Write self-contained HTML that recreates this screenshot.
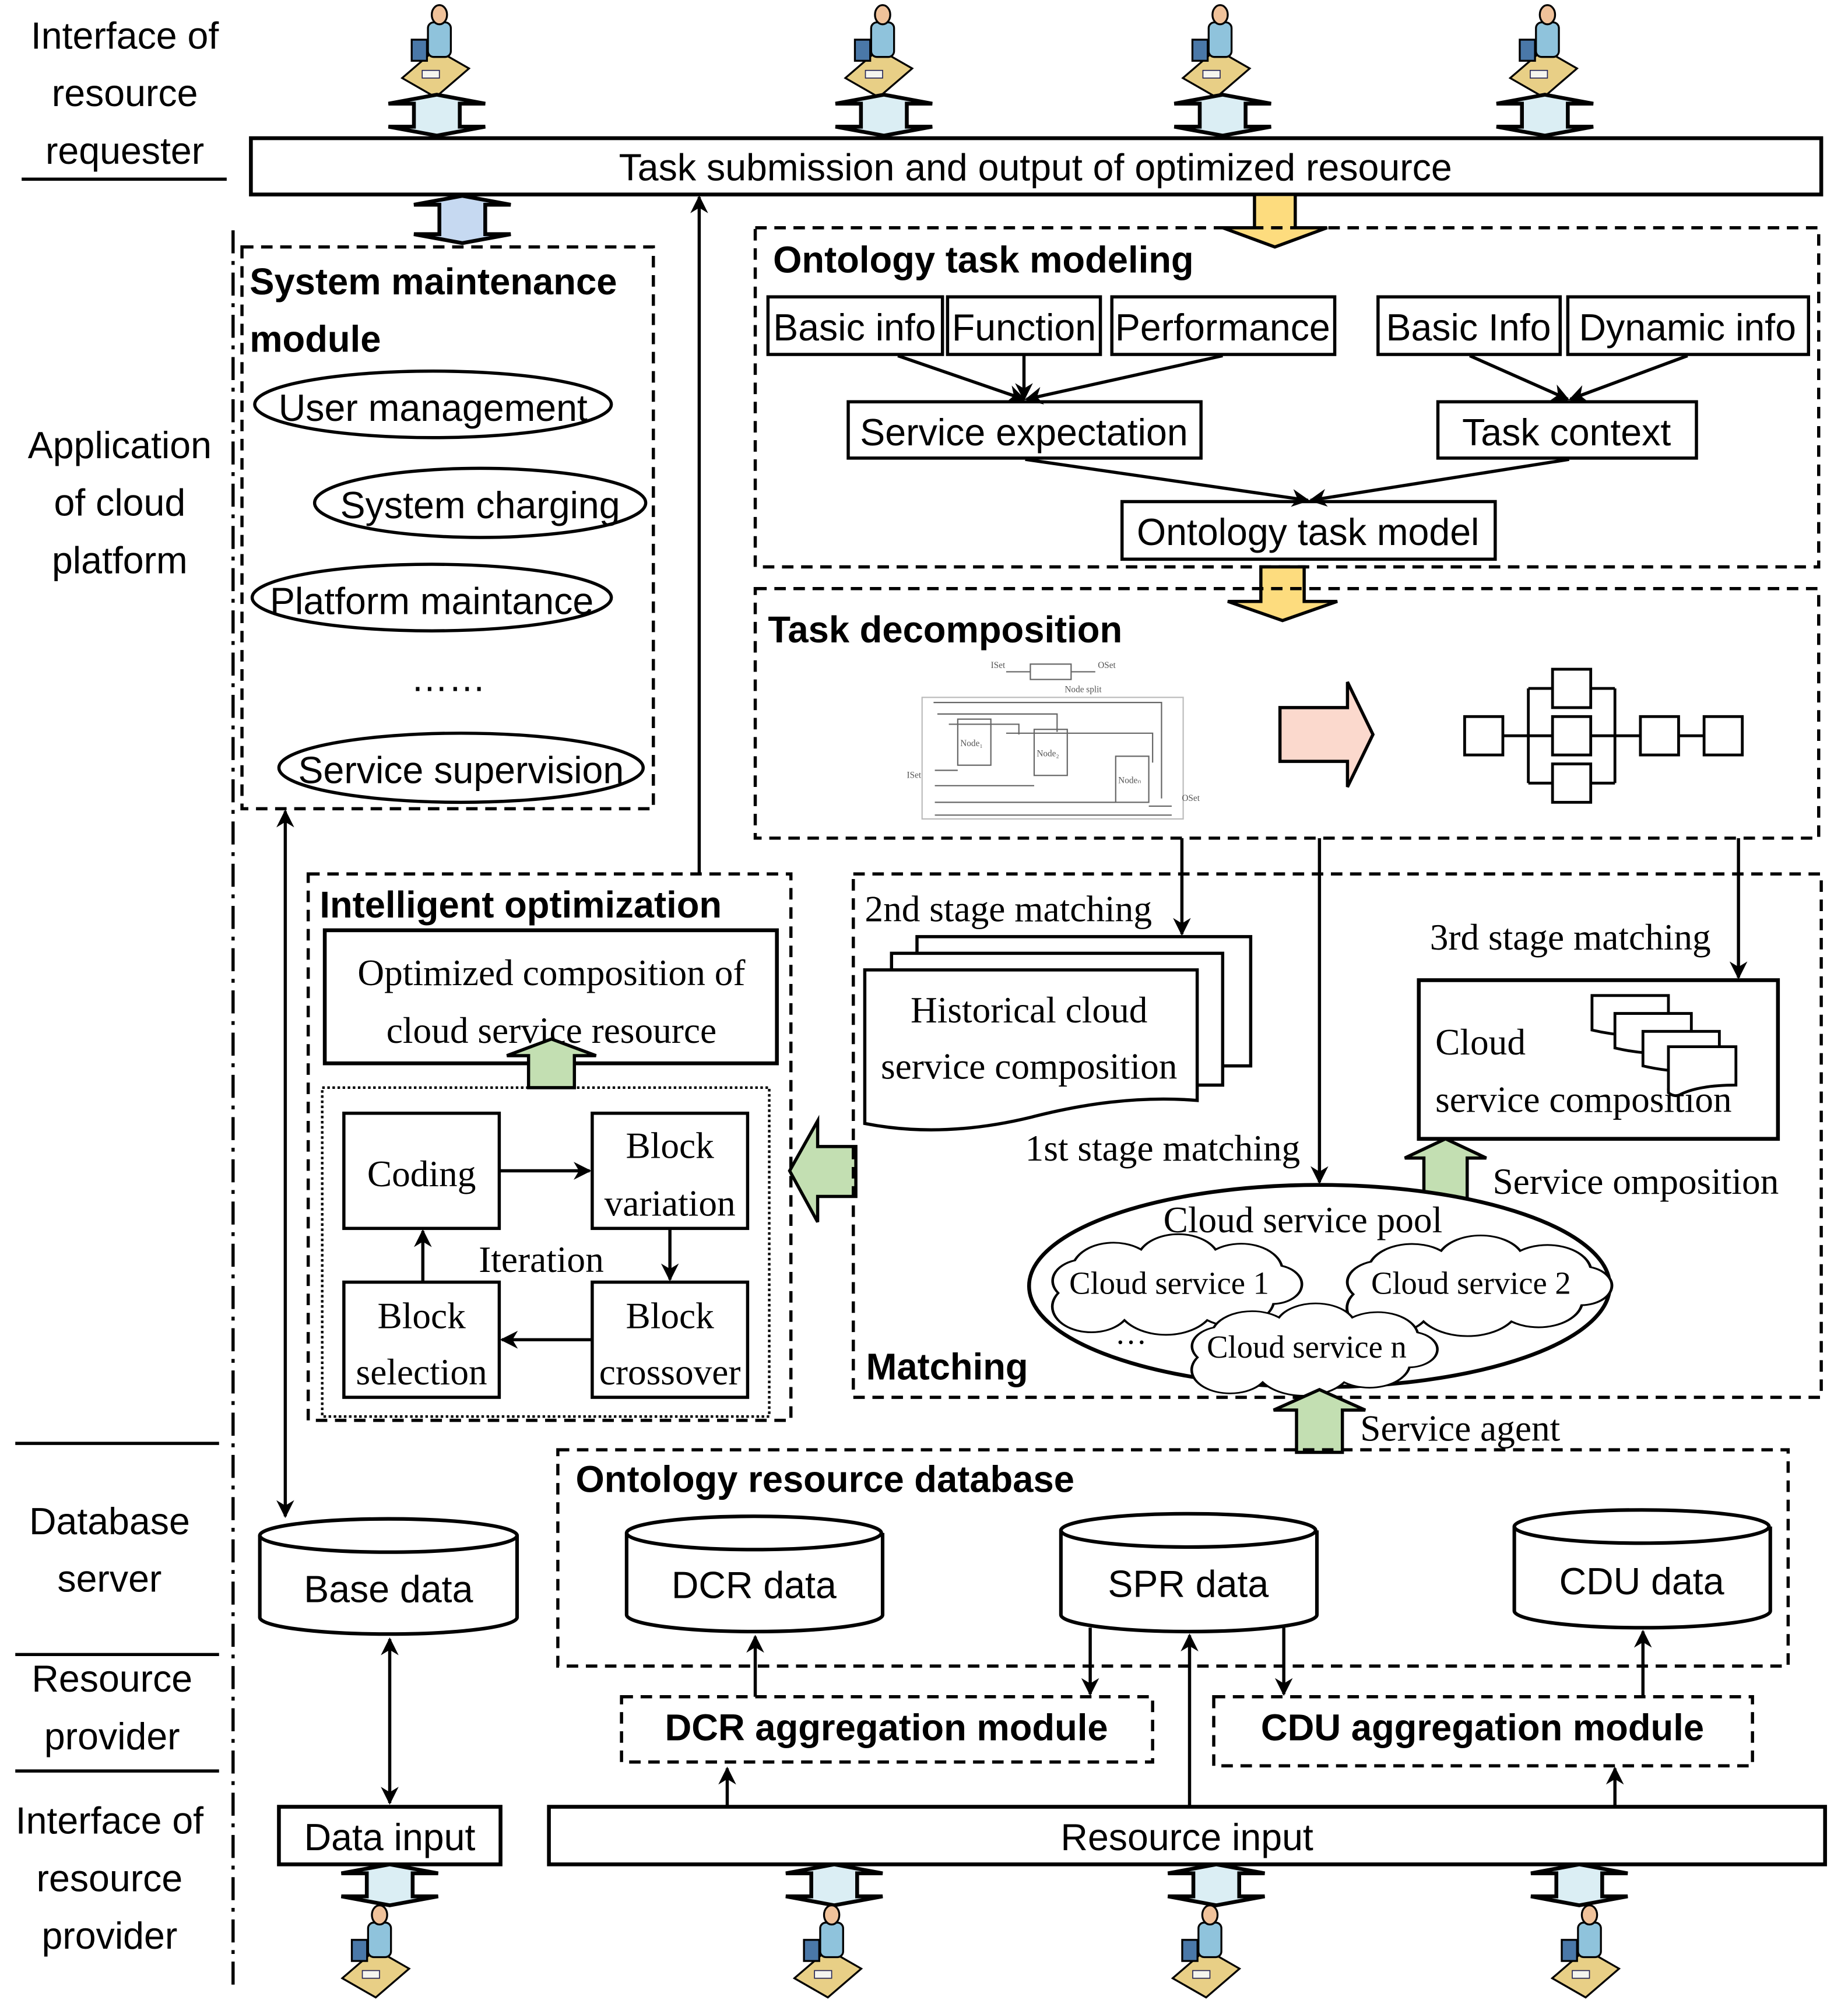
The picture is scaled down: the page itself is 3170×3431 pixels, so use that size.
<!DOCTYPE html>
<html><head><meta charset="utf-8"><style>
html,body{margin:0;padding:0;background:#fff}
svg{display:block}
.s{font-family:"Liberation Sans",sans-serif;font-size:29.5px}
.b{font-family:"Liberation Sans",sans-serif;font-size:29px;font-weight:bold}
.r{font-family:"Liberation Serif",serif;font-size:29px}
.rs{font-family:"Liberation Serif",serif;font-size:25px}
</style></head><body>
<svg width="3170" height="3431" viewBox="0 0 1451 1563" preserveAspectRatio="none" xmlns="http://www.w3.org/2000/svg">
<defs>
<marker id="a2" viewBox="0 0 10 10" refX="9" refY="5" markerWidth="22" markerHeight="14" orient="auto-start-reverse" markerUnits="userSpaceOnUse"><path d="M0,0 L10,5 L0,10 L3,5 z" fill="#000"/></marker>
<g id="dbl"><polygon points="38,0 76,7 56,7 56,25 76,25 38,32 0,25 20,25 20,7 0,7" fill="#dbeef4" stroke="#000" stroke-width="3" stroke-linejoin="miter"/></g>
<g id="dbl2"><polygon points="38,0 76,7 56,7 56,30 76,30 38,37 0,30 20,30 20,7 0,7" fill="#c6d9f1" stroke="#000" stroke-width="3"/></g>
<g id="person">
<polygon points="-35,28 0,-2 35,18 0,48" fill="#e8cf86" stroke="#000" stroke-width="2"/>
<rect x="-8" y="-30" width="24" height="36" rx="6" fill="#8fc3dc" stroke="#000" stroke-width="2"/>
<ellipse cx="4" cy="-38" rx="8" ry="10" fill="#f0c29a" stroke="#000" stroke-width="2"/>
<rect x="-25" y="-12" width="16" height="22" fill="#4a78a8" stroke="#000" stroke-width="2"/>
<rect x="-14" y="20" width="18" height="8" fill="#f5f5ee" stroke="#225" stroke-width="1"/>
</g>
<path id="cloud" d="M-67,10 a20,20 0 0,1 10,-30 a25,25 0 0,1 40,-10 a25,25 0 0,1 45,0 a25,25 0 0,1 40,15 a18,18 0 0,1 -5,35 a25,25 0 0,1 -40,15 a30,30 0 0,1 -50,0 a22,22 0 0,1 -40,-25 z" fill="#fff" stroke="#000" stroke-width="1.6"/>
</defs>

<g class="s" text-anchor="middle">
<text x="98" y="38">Interface of</text><text x="98" y="83">resource</text><text x="98" y="128">requester</text>
<text x="94" y="358">Application</text><text x="94" y="403">of cloud</text><text x="94" y="448">platform</text>
<text x="86" y="1199">Database</text><text x="86" y="1244">server</text>
<text x="88" y="1322">Resource</text><text x="88" y="1367">provider</text>
<text x="86" y="1433">Interface of</text><text x="86" y="1478">resource</text><text x="86" y="1523">provider</text>
</g>
<g stroke="#000" stroke-width="2.5">
<line x1="17" y1="140" x2="178" y2="140"/>
<line x1="12" y1="1128" x2="172" y2="1128"/>
<line x1="12" y1="1293" x2="172" y2="1293"/>
<line x1="12" y1="1384" x2="172" y2="1384"/>
</g>
<line x1="183" y1="180" x2="183" y2="1555" stroke="#000" stroke-width="2.5" stroke-dasharray="18,6,3,6"/>

<use href="#person" transform="translate(342,40) scale(0.75)"/>
<use href="#person" transform="translate(690,40) scale(0.75)"/>
<use href="#person" transform="translate(955,40) scale(0.75)"/>
<use href="#person" transform="translate(1212,40) scale(0.75)"/>
<use href="#dbl" transform="translate(305,74)"/>
<use href="#dbl" transform="translate(656,74)"/>
<use href="#dbl" transform="translate(922,74)"/>
<use href="#dbl" transform="translate(1175,74)"/>

<rect x="197" y="108" width="1233" height="44" fill="#fff" stroke="#000" stroke-width="3"/>
<text class="s" x="813" y="141" text-anchor="middle">Task submission and output of optimized resource</text>

<use href="#dbl2" transform="translate(325,153)"/>
<line x1="549" y1="683" x2="549" y2="154" stroke="#000" stroke-width="2.5" marker-end="url(#a2)"/>
<polygon points="985,152 1017,152 1017,178 1042,178 1001,193 960,178 985,178" fill="#fddc7e" stroke="#000" stroke-width="2.5"/>

<rect x="190" y="193" width="323" height="439" fill="none" stroke="#000" stroke-width="2.5" stroke-dasharray="9,6"/>
<text class="b" x="196" y="230">System maintenance</text>
<text class="b" x="196" y="275">module</text>
<g fill="none" stroke="#000" stroke-width="2.5">
<ellipse cx="340" cy="316" rx="140" ry="26"/>
<ellipse cx="377" cy="393" rx="130" ry="27"/>
<ellipse cx="339" cy="467" rx="141" ry="26"/>
<ellipse cx="362" cy="600" rx="143" ry="27"/>
</g>
<g class="s" text-anchor="middle">
<text x="340" y="329">User management</text>
<text x="377" y="405">System charging</text>
<text x="339" y="480">Platform maintance</text>
<text x="352" y="540">……</text>
<text x="362" y="612">Service supervision</text>
</g>

<rect x="593" y="178" width="835" height="265" fill="none" stroke="#000" stroke-width="2.5" stroke-dasharray="9,6"/>
<text class="b" x="607" y="213">Ontology task modeling</text>
<g fill="#fff" stroke="#000" stroke-width="2.5">
<rect x="603" y="232" width="137" height="45"/><rect x="744" y="232" width="120" height="45"/><rect x="873" y="232" width="175" height="45"/>
<rect x="1082" y="232" width="143" height="45"/><rect x="1231" y="232" width="189" height="45"/>
<rect x="666" y="314" width="277" height="44"/><rect x="1129" y="314" width="203" height="44"/>
<rect x="881" y="392" width="293" height="45"/>
</g>
<g class="s" text-anchor="middle">
<text x="671" y="266">Basic info</text><text x="804" y="266">Function</text><text x="960" y="266">Performance</text>
<text x="1153" y="266">Basic Info</text><text x="1325" y="266">Dynamic info</text>
<text x="804" y="348">Service expectation</text><text x="1230" y="348">Task context</text>
<text x="1027" y="426">Ontology task model</text>
</g>
<g stroke="#000" stroke-width="2.5" marker-end="url(#a2)">
<line x1="705" y1="278" x2="804" y2="312"/><line x1="804" y1="278" x2="804" y2="312"/><line x1="960" y1="278" x2="806" y2="312"/>
<line x1="1154" y1="278" x2="1231" y2="312"/><line x1="1325" y1="278" x2="1233" y2="312"/>
<line x1="805" y1="359" x2="1027" y2="391"/><line x1="1232" y1="359" x2="1029" y2="391"/>
</g>
<polygon points="990,443 1024,443 1024,470 1050,470 1007,485 964,470 990,470" fill="#fddc7e" stroke="#000" stroke-width="2.5"/>

<rect x="593" y="460" width="835" height="195" fill="none" stroke="#000" stroke-width="2.5" stroke-dasharray="9,6"/>
<text class="b" x="603" y="502">Task decomposition</text>
<g stroke="#666" stroke-width="1" fill="none">
<rect x="809" y="519" width="32" height="12"/><line x1="790" y1="525" x2="809" y2="525"/><line x1="841" y1="525" x2="860" y2="525"/>
<rect x="724" y="545" width="205" height="95" stroke="#bbb"/>
<rect x="752" y="562" width="26" height="36" fill="#fff"/><rect x="812" y="570" width="26" height="36" fill="#fff"/><rect x="876" y="591" width="26" height="36" fill="#fff"/>
<path d="M733,549 H912 V624 M736,558 H830 V572 M745,566 H800 V574 M790,573 H905 V596 M734,602 H752 M734,614 H812 M734,627 H876 M734,637 H920 M902,630 H920"/>
</g>
<g font-family="Liberation Serif,serif" font-size="7" fill="#555">
<text x="778" y="522">ISet</text><text x="862" y="522">OSet</text><text x="836" y="541">Node split</text>
<text x="754" y="583">Node₁</text><text x="814" y="591">Node₂</text><text x="878" y="612">Nodeₙ</text>
<text x="712" y="608">ISet</text><text x="928" y="626">OSet</text>
</g>
<polygon points="1005,553 1058,553 1058,533 1078,574 1058,615 1058,595 1005,595" fill="#fbd9cd" stroke="#000" stroke-width="2.5"/>
<g fill="#fff" stroke="#000" stroke-width="2.2">
<line x1="1180" y1="575" x2="1338" y2="575"/>
<line x1="1200" y1="538" x2="1200" y2="612"/><line x1="1268" y1="538" x2="1268" y2="612"/>
<line x1="1200" y1="538" x2="1268" y2="538"/><line x1="1200" y1="612" x2="1268" y2="612"/>
<rect x="1150" y="560" width="30" height="30"/>
<rect x="1219" y="523" width="30" height="30"/><rect x="1219" y="560" width="30" height="30"/><rect x="1219" y="597" width="30" height="30"/>
<rect x="1288" y="560" width="30" height="30"/><rect x="1338" y="560" width="30" height="30"/>
</g>

<rect x="242" y="683" width="379" height="427" fill="none" stroke="#000" stroke-width="2.5" stroke-dasharray="9,6"/>
<text class="b" x="251" y="717">Intelligent optimization</text>
<rect x="255" y="727" width="355" height="104" fill="#fff" stroke="#000" stroke-width="3"/>
<text class="r" x="433" y="770" text-anchor="middle">Optimized composition of</text>
<text class="r" x="433" y="815" text-anchor="middle">cloud service resource</text>
<polygon points="415,850 415,825 398,825 433,812 468,825 451,825 451,850" fill="#c3dfb2" stroke="#000" stroke-width="2.5"/>
<rect x="253" y="850" width="351" height="257" fill="none" stroke="#000" stroke-width="2" stroke-dasharray="2,2"/>
<g fill="#fff" stroke="#000" stroke-width="2.5">
<rect x="270" y="870" width="122" height="90"/><rect x="465" y="870" width="122" height="90"/>
<rect x="270" y="1002" width="122" height="90"/><rect x="465" y="1002" width="122" height="90"/>
</g>
<g class="r" text-anchor="middle">
<text x="331" y="927">Coding</text>
<text x="526" y="905">Block</text><text x="526" y="950">variation</text>
<text x="331" y="1038">Block</text><text x="331" y="1082">selection</text>
<text x="526" y="1038">Block</text><text x="526" y="1082">crossover</text>
<text x="425" y="994">Iteration</text>
</g>
<g stroke="#000" stroke-width="2.5" marker-end="url(#a2)">
<line x1="392" y1="915" x2="463" y2="915"/><line x1="526" y1="960" x2="526" y2="1000"/>
<line x1="465" y1="1047" x2="394" y2="1047"/><line x1="332" y1="1002" x2="332" y2="962"/>
</g>
<polygon points="672,896 642,896 642,876 620,915 642,955 642,935 672,935" fill="#c3dfb2" stroke="#000" stroke-width="2.5"/>

<rect x="670" y="683" width="760" height="409" fill="none" stroke="#000" stroke-width="2.5" stroke-dasharray="9,6"/>
<text class="r" x="679" y="720">2nd stage matching</text>
<line x1="928" y1="655" x2="928" y2="730" stroke="#000" stroke-width="2.5" marker-end="url(#a2)"/>
<g fill="#fff" stroke="#000" stroke-width="2.5">
<rect x="720" y="732" width="262" height="101"/>
<rect x="700" y="745" width="260" height="103"/>
<path d="M679,758 H940 V860 Q880,855 810,873 Q740,890 679,878 Z"/>
</g>
<text class="r" x="808" y="799" text-anchor="middle">Historical cloud</text>
<text class="r" x="808" y="843" text-anchor="middle">service composition</text>
<text class="r" x="805" y="907">1st stage matching</text>
<line x1="1036" y1="655" x2="1036" y2="924" stroke="#000" stroke-width="2.5" marker-end="url(#a2)"/>
<text class="r" x="1233" y="742" text-anchor="middle">3rd stage matching</text>
<line x1="1365" y1="655" x2="1365" y2="764" stroke="#000" stroke-width="2.5" marker-end="url(#a2)"/>
<rect x="1114" y="766" width="282" height="124" fill="#fff" stroke="#000" stroke-width="3"/>
<text class="r" x="1127" y="824">Cloud</text>
<text class="r" x="1127" y="869">service composition</text>
<g fill="#fff" stroke="#000" stroke-width="2.2">
<path d="M1250,778 H1310 V808 Q1280,812 1250,805 Z"/>
<path d="M1268,792 H1328 V822 Q1298,826 1268,819 Z"/>
<path d="M1290,806 H1350 V836 Q1320,840 1290,833 Z"/>
<path d="M1310,818 H1363 V848 Q1335,848 1320,855 Q1315,858 1310,854 Z"/>
</g>
<polygon points="1118,940 1118,905 1103,905 1135,890 1167,905 1152,905 1152,940" fill="#c3dfb2" stroke="#000" stroke-width="2.5"/>
<text class="r" x="1172" y="933">Service omposition</text>
<ellipse cx="1036" cy="1005" rx="228" ry="79" fill="#fff" stroke="#000" stroke-width="3"/>
<text class="r" x="1023" y="963" text-anchor="middle">Cloud service pool</text>
<use href="#cloud" transform="translate(918,1002) scale(1.3,0.85)"/>
<use href="#cloud" transform="translate(1155,1003) scale(1.38,0.85)"/>
<use href="#cloud" transform="translate(1026,1053) scale(1.28,0.78)"/>
<g class="rs" text-anchor="middle">
<text x="918" y="1011">Cloud service 1</text>
<text x="1155" y="1011">Cloud service 2</text>
<text x="1026" y="1061">Cloud service n</text>
<text x="888" y="1050">…</text>
</g>
<text class="b" x="680" y="1078">Matching</text>
<polygon points="1018,1135 1018,1102 1000,1102 1036,1086 1072,1102 1054,1102 1054,1135" fill="#c3dfb2" stroke="#000" stroke-width="2.5"/>
<text class="r" x="1068" y="1126">Service agent</text>

<rect x="438" y="1133" width="966" height="169" fill="none" stroke="#000" stroke-width="2.5" stroke-dasharray="9,6"/>
<text class="b" x="452" y="1166">Ontology resource database</text>
<g fill="#fff" stroke="#000" stroke-width="2.8">
<path d="M492,1198 V1262 A100,13 0 0,0 693,1262 V1198"/><ellipse cx="592" cy="1198" rx="100" ry="13"/>
<path d="M833,1196 V1262 A100,13 0 0,0 1034,1262 V1196"/><ellipse cx="933" cy="1196" rx="100" ry="13"/>
<path d="M1189,1193 V1259 A100,13 0 0,0 1390,1259 V1193"/><ellipse cx="1289" cy="1193" rx="100" ry="13"/>
<path d="M204,1200 V1264 A101,13 0 0,0 406,1264 V1200"/><ellipse cx="305" cy="1200" rx="101" ry="13"/>
</g>
<g class="s" text-anchor="middle">
<text x="592" y="1249">DCR data</text><text x="933" y="1248">SPR data</text><text x="1289" y="1246">CDU data</text>
<text x="305" y="1252">Base data</text>
</g>
<line x1="224" y1="634" x2="224" y2="1185" stroke="#000" stroke-width="2.5" marker-start="url(#a2)" marker-end="url(#a2)"/>
<line x1="306" y1="1281" x2="306" y2="1409" stroke="#000" stroke-width="2.5" marker-start="url(#a2)" marker-end="url(#a2)"/>

<rect x="488" y="1326" width="417" height="51" fill="none" stroke="#000" stroke-width="2.5" stroke-dasharray="9,6"/>
<rect x="953" y="1326" width="423" height="54" fill="none" stroke="#000" stroke-width="2.5" stroke-dasharray="9,6"/>
<text class="b" x="696" y="1360" text-anchor="middle">DCR aggregation module</text>
<text class="b" x="1164" y="1360" text-anchor="middle">CDU aggregation module</text>
<g stroke="#000" stroke-width="2.5" marker-end="url(#a2)">
<line x1="593" y1="1326" x2="593" y2="1279"/>
<line x1="856" y1="1272" x2="856" y2="1324"/>
<line x1="1008" y1="1272" x2="1008" y2="1324"/>
<line x1="1290" y1="1326" x2="1290" y2="1275"/>
<line x1="571" y1="1412" x2="571" y2="1382"/>
<line x1="934" y1="1412" x2="934" y2="1278"/>
<line x1="1268" y1="1412" x2="1268" y2="1382"/>
</g>
<rect x="431" y="1412" width="1002" height="45" fill="#fff" stroke="#000" stroke-width="3"/>
<text class="s" x="932" y="1446" text-anchor="middle">Resource input</text>
<rect x="219" y="1412" width="174" height="45" fill="#fff" stroke="#000" stroke-width="3"/>
<text class="s" x="306" y="1446" text-anchor="middle">Data input</text>

<use href="#dbl" transform="translate(268,1457)"/>
<use href="#dbl" transform="translate(617,1457)"/>
<use href="#dbl" transform="translate(917,1457)"/>
<use href="#dbl" transform="translate(1202,1457)"/>
<use href="#person" transform="translate(295,1525) scale(0.75)"/>
<use href="#person" transform="translate(650,1525) scale(0.75)"/>
<use href="#person" transform="translate(947,1525) scale(0.75)"/>
<use href="#person" transform="translate(1245,1525) scale(0.75)"/>
</svg>
</body></html>
